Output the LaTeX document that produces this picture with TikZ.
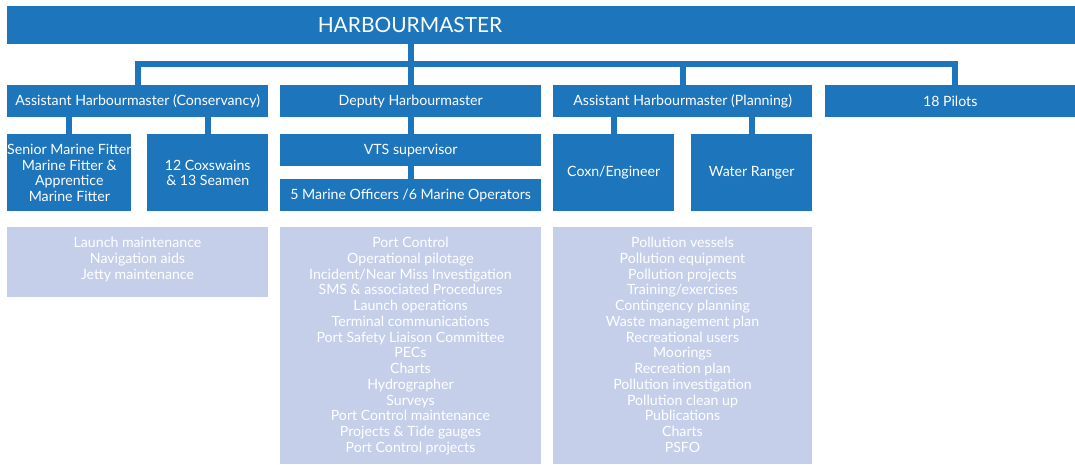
\documentclass[tikz,border=0pt]{standalone}
\usepackage{fontspec}
\setmainfont{Lato}
\definecolor{orgblue}{RGB}{29,117,188}
\definecolor{dutyfill}{RGB}{197,207,234}
\begin{document}
\begin{tikzpicture}[x=1bp,y=-1bp,
  box/.style={fill=orgblue, text=white, inner sep=0pt, anchor=north west,
    align=center, font=\fontsize{14.2}{15.6}\selectfont},
  duty/.style={fill=dutyfill, inner sep=0pt, anchor=north west},
  dutytext/.style={text=white, inner sep=0pt, anchor=north, align=center,
    font=\fontsize{14.2}{15.8}\selectfont},
  conn/.style={draw=orgblue, line width=6bp, line join=miter}]
\useasboundingbox (0,0) rectangle (1075,465);

% top level
\node[box, minimum width=1068bp, minimum height=38bp] (hm) at (7,6) {};
\node[text=white, font=\fontsize{21}{25}\selectfont, inner sep=0pt] (hmlabel) at (410,25) {HARBOURMASTER};

% second level
\node[box, minimum width=261bp, minimum height=32bp] (c1) at (7,85) {Assistant Harbourmaster (Conservancy)};
\node[box, minimum width=261bp, minimum height=32bp] (c2) at (280,85) {Deputy Harbourmaster};
\node[box, minimum width=259bp, minimum height=32bp] (c3) at (553,85) {Assistant Harbourmaster (Planning)};
\node[box, minimum width=250bp, minimum height=32bp] (c4) at (825,85) {18 Pilots};

% third level
\node[box, minimum width=121bp, minimum height=77bp] (fit) at (7,134) {Senior Marine Fitter\\Marine Fitter \&\\Apprentice\\Marine Fitter};
\node[box, minimum width=121bp, minimum height=77bp] (cox) at (147,134) {12 Coxswains\\\& 13 Seamen};
\node[box, minimum width=261bp, minimum height=32bp] (vts) at (280,134) {VTS supervisor};
\node[box, minimum width=261bp, minimum height=32bp] (mo) at (280,179) {5 Marine Officers /6 Marine Operators};
\node[box, minimum width=121bp, minimum height=77bp] (eng) at (553,134) {Coxn/Engineer};
\node[box, minimum width=121bp, minimum height=77bp] (wr) at (691,134) {Water Ranger};

% duty panels
\node[duty, minimum width=261bp, minimum height=70bp] (d1) at (7,227) {};
\node[duty, minimum width=261bp, minimum height=237bp] (d2) at (280,227) {};
\node[duty, minimum width=259bp, minimum height=237bp] (d3) at (553,227) {};

\node[dutytext] (t1) at (137.5,237) {Launch maintenance\\Navigation aids\\Jetty maintenance};
\node[dutytext] (t2) at (410.5,237) {Port Control\\Operational pilotage\\Incident/Near Miss Investigation\\SMS \& associated Procedures\\Launch operations\\Terminal communications\\Port Safety Liaison Committee\\PECs\\Charts\\Hydrographer\\Surveys\\Port Control maintenance\\Projects \& Tide gauges\\Port Control projects};
\node[dutytext] (t3) at (682.5,237) {Pollution vessels\\Pollution equipment\\Pollution projects\\Training/exercises\\Contingency planning\\Waste management plan\\Recreational users\\Moorings\\Recreation plan\\Pollution investigation\\Pollution clean up\\Publications\\Charts\\PSFO};

% connectors
\coordinate (j1) at (137,64);
\coordinate (j4) at (955,64);
\draw[conn] (c1.north) -- (c1.north |- j1) -- (j4) -- (j4 |- c4.north);
\draw[conn] (c2.north |- hm.south) -- (c2.north);
\draw[conn] (c3.north) -- (c3.north |- j1);
\draw[conn] (fit.north) -- (fit.north |- c1.south);
\draw[conn] (cox.north) -- (cox.north |- c1.south);
\draw[conn] (c2.south) -- (vts.north);
\draw[conn] (vts.south) -- (mo.north);
\draw[conn] (eng.north) -- (eng.north |- c3.south);
\draw[conn] (wr.north) -- (wr.north |- c3.south);
\end{tikzpicture}
\end{document}
